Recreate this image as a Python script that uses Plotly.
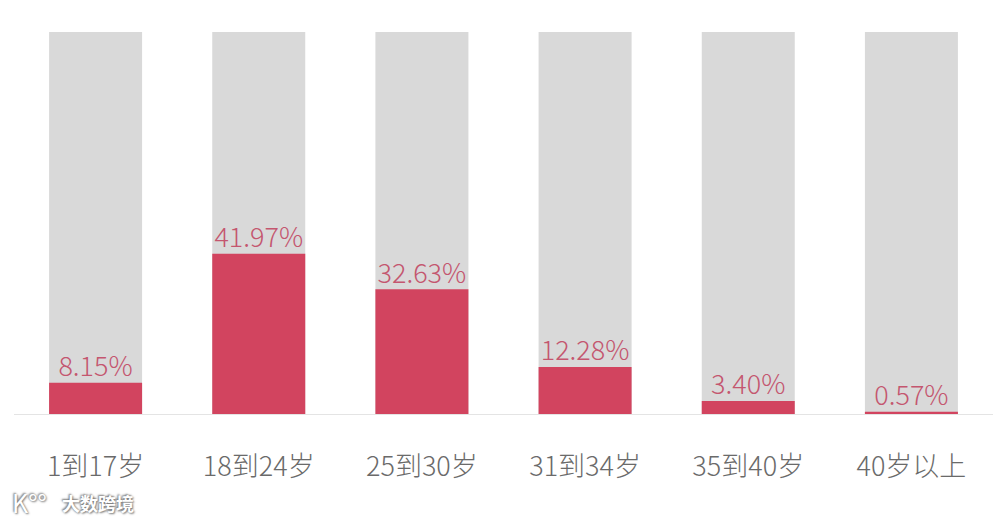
import plotly.graph_objects as go

categories = ["1到17岁", "18到24岁", "25到30岁", "31到34岁", "35到40岁", "40岁以上"]
values = [8.15, 41.97, 32.63, 12.28, 3.40, 0.57]
full = [100] * len(categories)
labels = [f"{v:.2f}%" for v in values]

FONT = "Noto Sans CJK SC, Noto Sans, sans-serif"

fig = go.Figure()
fig.add_trace(go.Bar(x=categories, y=full, marker=dict(color="#d9d9d9", line=dict(width=0)),
                     width=0.57, hoverinfo="skip"))
fig.add_trace(go.Bar(x=categories, y=values, marker=dict(color="#d2445f", line=dict(width=0)),
                     width=0.57))
fig.add_trace(go.Scatter(x=categories, y=values, mode="text", text=labels,
                         textposition="top center",
                         textfont=dict(family=FONT, size=27, color="#c4566f", weight=300),
                         cliponaxis=False))

fig.add_annotation(text="大数跨境", xref="paper", yref="paper", x=0, y=-0.233,
                   xanchor="left", yanchor="middle", showarrow=False, xshift=46,
                   font=dict(family=FONT, size=18, color="#ffffff", weight=700,
                             shadow="1px 1px 2px #777, -1px -1px 2px #777"))
fig.add_annotation(text="K°°", xref="paper", yref="paper", x=0, y=-0.23,
                   xanchor="left", yanchor="middle", showarrow=False, xshift=-4,
                   font=dict(family=FONT, size=25, color="#ffffff",
                             shadow="1px 1px 2px #777, -1px -1px 2px #777"))

fig.update_layout(
    width=1000, height=514, barmode="overlay", showlegend=False,
    paper_bgcolor="white", plot_bgcolor="white",
    margin=dict(l=6, r=15, t=24, b=108),
    xaxis=dict(showgrid=False, showline=True, linecolor="#e4e4e4", linewidth=1,
               ticks="", ticklabelstandoff=29,
               tickfont=dict(family=FONT, size=27, color="#6a6a6a", weight=300)),
    yaxis=dict(range=[0, 100], visible=False, showgrid=False),
)
fig.write_html("out.html")
